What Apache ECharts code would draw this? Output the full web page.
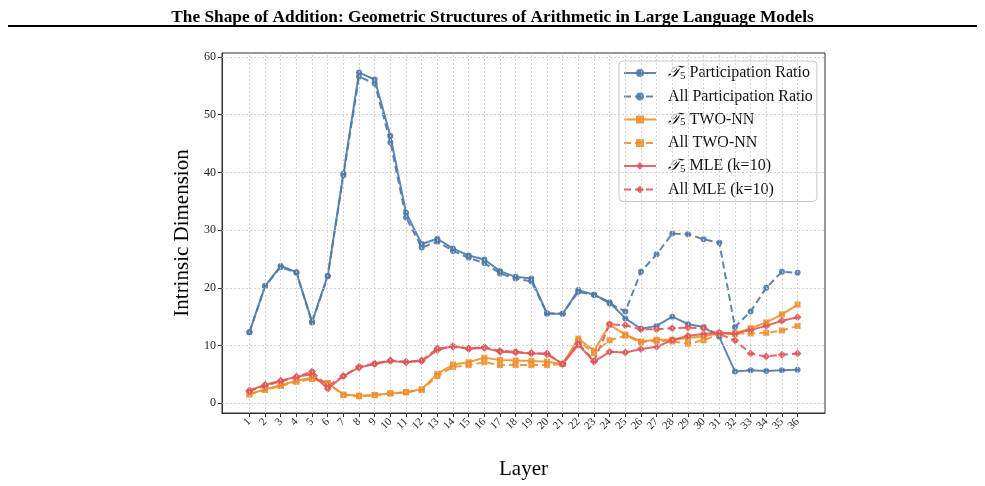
<!DOCTYPE html>
<html>
<head>
<meta charset="utf-8">
<title>Intrinsic Dimension by Layer</title>
<script src="https://cdn.jsdelivr.net/npm/echarts@6/dist/echarts.min.js"></script>
<style>
  html, body { margin: 0; padding: 0; background: #fff; }
  #chart { width: 985px; height: 486px; }
</style>
</head>
<body>
<div id="chart"></div>
<script>
// layers 1..36
var layers = [];
for (var i = 1; i <= 36; i++) layers.push(i);

var yTicks = [0, 10, 20, 30, 40, 50, 60];

var t5Pr = [12.3, 20.3, 23.8, 22.7, 14.1, 22.1, 39.8, 57.3, 56.1, 46.3, 33.0, 27.6, 28.5, 26.8, 25.6, 24.9, 22.9, 21.9,
  21.6, 15.5, 15.5, 19.6, 18.8, 17.5, 14.7, 12.9, 13.4, 15.0, 13.7, 13.2, 11.5, 5.5, 5.7, 5.6, 5.7, 5.8];
var allPr = [12.3, 20.3, 23.6, 22.6, 14.0, 22.0, 39.5, 56.6, 55.4, 45.2, 32.2, 27.0, 28.0, 26.4, 25.2, 24.3, 22.5, 21.6,
  21.1, 15.6, 15.5, 19.3, 18.8, 17.3, 15.9, 22.8, 25.8, 29.4, 29.3, 28.4, 27.8, 13.2, 15.9, 20.0, 22.8, 22.6];

var t5TwoNN = [1.6, 2.4, 3.1, 3.9, 4.4, 3.5, 1.5, 1.3, 1.4, 1.7, 1.9, 2.4, 5.1, 6.7, 7.1, 7.9, 7.5, 7.4,
  7.3, 7.2, 6.8, 11.2, 9.1, 13.6, 11.9, 10.7, 11.0, 11.0, 11.3, 11.6, 12.1, 12.1, 13.0, 14.0, 15.4, 17.1];
var allTwoNN = [1.5, 2.3, 3.0, 3.7, 4.2, 3.5, 1.4, 1.2, 1.4, 1.7, 1.9, 2.3, 4.7, 6.3, 6.6, 7.1, 6.6, 6.6,
  6.6, 6.6, 6.8, 10.8, 8.7, 10.9, 11.7, 10.6, 10.8, 10.7, 10.3, 10.9, 12.0, 12.0, 12.1, 12.2, 12.6, 13.4];

var t5Mle = [2.2, 3.2, 3.9, 4.6, 5.0, 2.5, 4.7, 6.2, 6.8, 7.3, 7.1, 7.3, 9.2, 9.9, 9.4, 9.6, 8.9, 8.8,
  8.6, 8.6, 6.8, 10.1, 7.2, 8.9, 8.8, 9.4, 9.8, 10.9, 11.7, 12.0, 12.2, 12.1, 12.7, 13.4, 14.3, 14.9];
var allMle = [2.1, 3.0, 3.8, 4.5, 5.5, 3.0, 4.7, 6.3, 6.9, 7.4, 7.2, 7.4, 9.5, 9.8, 9.5, 9.7, 9.1, 8.9,
  8.7, 8.5, 6.8, 10.4, 7.3, 13.7, 13.5, 12.8, 12.8, 13.0, 13.1, 13.0, 12.0, 10.9, 8.6, 8.1, 8.4, 8.6];

var BLUE = '#4e79a7';
var ORANGE = '#f28e2b';
var RED = '#e15759';
var SERIF = '"Liberation Serif", "DejaVu Serif", serif';
var GRID_LINE = { color: '#c8c8c8', width: 0.8, type: [2, 2] };

function pairs(vals) {
  return vals.map(function (v, i) { return [layers[i], v]; });
}

function makeSeries(name, vals, color, symbol, size, dashed) {
  return {
    name: name,
    type: 'line',
    data: pairs(vals),
    symbol: symbol,
    symbolSize: size,
    showSymbol: true,
    z: 3,
    itemStyle: { color: color, opacity: 0.9 },
    lineStyle: { color: color, width: 2, opacity: 0.9, type: dashed ? [7, 4] : 'solid' },
    emphasis: { disabled: true },
    animation: false
  };
}

var chart = echarts.init(document.getElementById('chart'));

var option = {
  backgroundColor: '#fff',
  animation: false,
  title: {
    text: 'The Shape of Addition: Geometric Structures of Arithmetic in Large Language Models',
    left: 'center',
    top: 4,
    textStyle: { fontFamily: SERIF, fontSize: 17.3, fontWeight: 'bold', color: '#000' }
  },
  graphic: [{
    type: 'line',
    shape: { x1: 8, y1: 26, x2: 977, y2: 26 },
    style: { stroke: '#000', lineWidth: 2 }
  }],
  grid: {
    left: 222, top: 53, right: 160, bottom: 73,
    show: true, borderColor: '#333', borderWidth: 1
  },
  legend: {
    orient: 'vertical',
    left: 619,
    top: 61,
    padding: [4, 4, 4, 4],
    itemGap: 7,
    itemWidth: 32,
    itemHeight: 10,
    backgroundColor: 'rgba(255,255,255,0.85)',
    borderColor: '#c8c8c8',
    borderWidth: 1,
    borderRadius: 4,
    textStyle: {
      fontFamily: SERIF, fontSize: 16, color: '#111',
      padding: [0, 0, 0, 7],
      rich: {
        t: { fontFamily: '"DejaVu Serif", serif', fontStyle: 'italic', fontSize: 16, color: '#111' },
        s: { fontFamily: SERIF, fontSize: 11, color: '#111', verticalAlign: 'bottom', padding: [6, 0, 0, 0] },
        n: { fontFamily: SERIF, fontSize: 16, color: '#111' }
      }
    },
    formatter: function (name) {
      if (name.indexOf('T5 ') === 0) {
        return '{t|\uD835\uDCAF}{s|5}{n| ' + name.slice(3) + '}';
      }
      return name;
    },
    data: ['T5 Participation Ratio', 'All Participation Ratio', 'T5 TWO-NN', 'All TWO-NN', 'T5 MLE (k=10)', 'All MLE (k=10)']
  },
  xAxis: {
    type: 'value',
    min: -0.75,
    max: 37.75,
    name: 'Layer',
    nameLocation: 'middle',
    nameGap: 46,
    nameTextStyle: { fontFamily: SERIF, fontSize: 21, color: '#000' },
    axisLine: { show: true, onZero: false, lineStyle: { color: '#333', width: 1 } },
    axisTick: { show: true, length: 4, customValues: layers, lineStyle: { color: '#333' } },
    axisLabel: {
      customValues: layers,
      rotate: 45,
      fontFamily: SERIF, fontSize: 11, color: '#222', margin: 7
    },
    splitLine: { show: false }
  },
  yAxis: {
    type: 'value',
    min: -1.7,
    max: 60.7,
    name: 'Intrinsic Dimension',
    nameLocation: 'middle',
    nameGap: 28,
    nameTextStyle: { fontFamily: SERIF, fontSize: 21, color: '#000' },
    axisLine: { show: true, onZero: false, lineStyle: { color: '#333', width: 1 } },
    axisTick: { show: true, length: 4, customValues: yTicks, lineStyle: { color: '#333' } },
    axisLabel: { customValues: yTicks, fontFamily: SERIF, fontSize: 12, color: '#222', margin: 6 },
    splitLine: { show: false }
  },
  series: [
    // grid lines at each layer and each y tick
    {
      type: 'line',
      data: [],
      z: 1,
      silent: true,
      markLine: {
        silent: true,
        symbol: ['none', 'none'],
        label: { show: false },
        lineStyle: GRID_LINE,
        animation: false,
        data: layers.map(function (l) { return { xAxis: l }; })
          .concat(yTicks.map(function (t) { return { yAxis: t }; }))
      }
    },
    makeSeries('T5 Participation Ratio', t5Pr, BLUE, 'circle', 6, false),
    makeSeries('All Participation Ratio', allPr, BLUE, 'circle', 6, true),
    makeSeries('T5 TWO-NN', t5TwoNN, ORANGE, 'rect', 6, false),
    makeSeries('All TWO-NN', allTwoNN, ORANGE, 'rect', 6, true),
    makeSeries('T5 MLE (k=10)', t5Mle, RED, 'diamond', 8, false),
    makeSeries('All MLE (k=10)', allMle, RED, 'diamond', 8, true)
  ]
};

chart.setOption(option);
</script>
</body>
</html>
